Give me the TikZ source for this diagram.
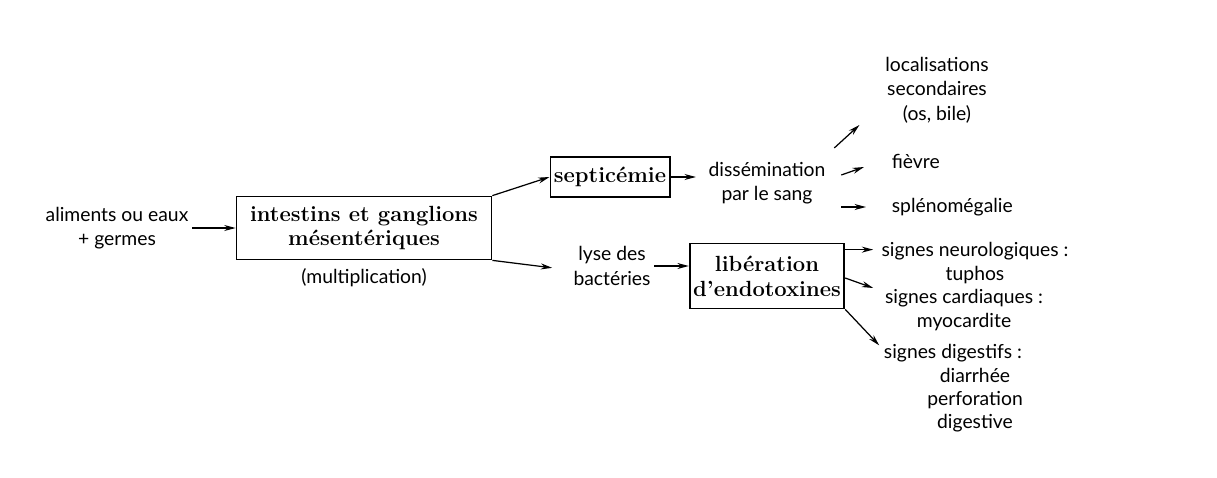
\documentclass[tikz,border=0pt]{standalone}
\usepackage{fontspec}
\newfontfamily\optfont{Lato}
\usepackage{tikz}
\usetikzlibrary{calc}
\usetikzlibrary{arrows.meta}

\tikzset{
  txt/.style={font=\optfont\fontsize{11}{14}\selectfont, align=center, inner sep=2pt},
  boite/.style={draw, line width=1pt, font=\bfseries\fontsize{12.5}{14.2}\selectfont, align=center, inner sep=2pt},
  fl/.style={-{Stealth[length=6.5pt,width=3.4pt]}, line width=0.7pt}
}

\begin{document}
\begin{tikzpicture}[x=0.02cm,y=-0.02cm]
\useasboundingbox[fill=white] (0,0) rectangle (1217,477);

% Left part
\node[txt] (food) at (117,228) {aliments ou eaux\\+ germes};
\node[boite, minimum width=5.1cm, minimum height=1.26cm] (intes) at (364,228) {intestins et ganglions\\m\'esent\'eriques};
\node[txt] (mult) at (364,278) {(multiplication)};

% Middle
\node[boite, minimum width=2.3cm, minimum height=0.8cm] (sept) at (610,177) {septic\'emie};
\node[txt] (diss) at (767,183) {diss\'emination\\par le sang};
\node[txt] (lyse) at (612,266) {lyse des\\bact\'eries};
\node[boite, minimum width=2.82cm, minimum height=1.3cm] (endo) at (767,276) {lib\'eration\\d'endotoxines};

% Right column
\node[txt] (loc) at (937,90) {localisations\\secondaires\\(os, bile)};
\node[txt, anchor=west] (fiev) at (888,161) {fi\`evre};
\node[txt, anchor=west] (splen) at (888,207) {spl\'enom\'egalie};
\node[txt] (neuro) at (975,263) {signes neurologiques :\\tuphos};
\node[txt] (card) at (964,310) {signes cardiaques :\\myocardite};
\node[txt] (dig) at (953,353) {signes digestifs :};
\node[txt, font=\optfont\fontsize{11}{13}\selectfont] (digb) at (975,400) {diarrh\'ee\\perforation\\digestive};

% Arrows
\draw[fl] (food.east) -- (intes.west);
\draw[fl] (intes.north east) -- (sept.west);
\draw[fl, shorten >=10pt] (intes.south east) -- ($(lyse.west)+(0,4)$);
\draw[fl, shorten >=5pt] (sept.east) -- (sept.east -| diss.west);
\draw[fl] (lyse.east) -- (lyse.east -| endo.west);
\draw[fl] ($(diss.north east)+(5,-10)$) -- ($(loc.south west)+(-22,-2)$);
\draw[fl] ($(diss.east)+(12,-8)$) -- ($(fiev.west)+(-24,6)$);
\draw[fl] ($(diss.east)+(12,24)$) -- ($(splen.west)+(-22,0)$);
\draw[fl] ($(endo.north east)+(0,7)$) -- ($(endo.north east)+(28,7)$);
\draw[fl] ($(endo.east)+(0,2)$) -- ($(endo.east)+(28,12)$);
\draw[fl] (endo.south east) -- ($(endo.south east)+(34,36)$);
\end{tikzpicture}
\end{document}
